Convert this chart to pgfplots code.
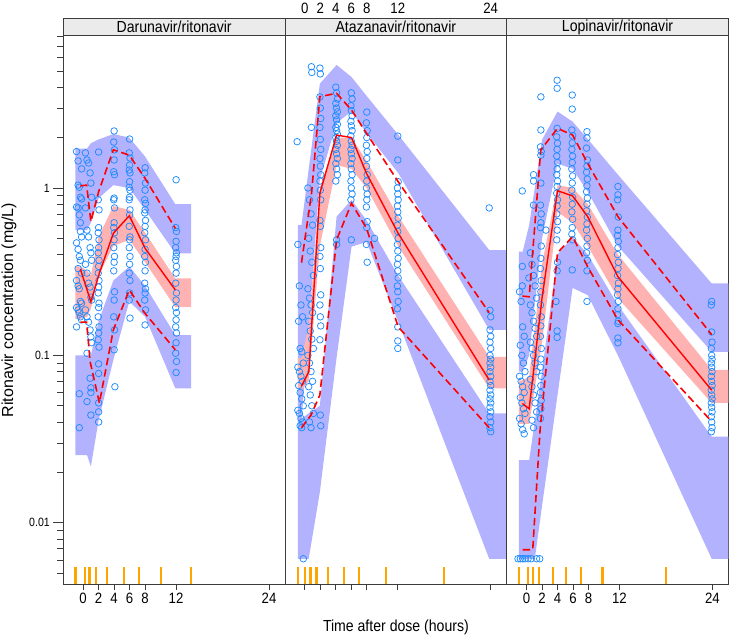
\documentclass[border=0pt]{standalone}
\usepackage{pgfplots}
\pgfplotsset{compat=1.18}
\usepackage{fontspec}
\setmainfont{Liberation Sans}[FakeStretch=0.88]
\newfontfamily\vertfont{Liberation Sans}

\definecolor{obsblue}{RGB}{30,140,255}
\definecolor{piblue}{RGB}{178,178,255}
\definecolor{pipink}{RGB}{255,178,178}
\definecolor{rugorange}{RGB}{255,165,0}
\definecolor{framecol}{RGB}{60,60,60}

\pgfplotsset{
  pts/.style={only marks, mark=o, mark size=3.3pt, color=obsblue, line width=0.75pt},
  obsmed/.style={color=red, line width=1.4pt},
  obspct/.style={color=red, line width=1.6pt, dash pattern=on 7.5pt off 4pt},
  rug/.style={only marks, mark=|, mark size=8.35pt, color=rugorange, line width=2.2pt},
}

\begin{document}
\begin{tikzpicture}
\path[use as bounding box] (0,0) rectangle (729pt,638pt);

% ---------------- Darunavir/ritonavir ----------------
\begin{axis}[scale only axis, width=221.7pt, height=548.3pt,
    xmin=-2.56, xmax=26.06, ymin=0.00431, ymax=8.12, ymode=log,
    axis line style={framecol, line width=0.7pt},
    xtick={0,2,4,6,8,12,24}, xticklabels={0,2,4,6,8,12,24},
    xtick pos=bottom, tick align=outside, major tick length=6pt,
    ymajorticks=false, yminorticks=false,
    every tick/.style={framecol, line width=0.7pt},
    x tick label style={font=\fontsize{15}{15}\selectfont},
    clip mode=individual,
    at={(63.3pt,54pt)}, anchor=south west]
\addplot[draw=none, fill=piblue] coordinates {(-0.99,1.72) (-0.35,1.72) (0.5,1.72) (1.0,1.85) (2.0,1.95) (3.9,2.1) (5.96,2.0) (8.0,1.54) (11.9,0.80) (13.94,0.80)
  (13.94,0.407) (11.9,0.407) (8.0,0.74) (5.96,1.0) (3.9,1.04) (2.0,0.868) (1.0,0.62) (0.5,0.561) (-0.35,0.561) (-0.99,0.561)} -- cycle;
\addplot[draw=none, fill=piblue] coordinates {(-0.99,0.10) (-0.35,0.10) (0.5,0.10) (1.0,0.10) (2.0,0.16) (3.9,0.28) (5.96,0.34) (8.0,0.26) (11.9,0.132) (13.94,0.132)
  (13.94,0.0636) (11.9,0.0636) (8.0,0.17) (5.96,0.21) (3.9,0.094) (2.0,0.041) (1.0,0.0217) (0.5,0.0254) (-0.35,0.0254) (-0.99,0.0254)} -- cycle;
\addplot[draw=none, fill=pipink] coordinates {(-0.99,0.34) (-0.35,0.34) (0.5,0.32) (1.0,0.30) (2.0,0.51) (3.9,0.78) (5.96,0.74) (8.0,0.54) (11.9,0.288) (13.94,0.288)
  (13.94,0.194) (11.9,0.194) (8.0,0.36) (5.96,0.49) (3.9,0.45) (2.0,0.30) (1.0,0.19) (0.5,0.17) (-0.35,0.165) (-0.99,0.165)} -- cycle;
\addplot[pts] table {
t v
-0.85 1.65
-0.65 1.04
-0.5 1.01
-0.35 0.88
-0.2 0.86
-0.85 0.77
-0.65 0.76
-0.5 0.69
-0.35 0.62
-0.2 0.51
-0.85 0.47
-0.65 0.43
-0.5 0.39
-0.35 0.37
-0.2 0.31
-0.85 0.28
-0.65 0.26
-0.5 0.25
-0.35 0.21
-0.2 0.205
-0.85 0.193
-0.65 0.187
-0.5 0.18
-0.35 0.17
-0.2 0.163
-0.85 0.148
-0.5 0.059
-0.5 0.037
-0.65 1.45
-0.2 1.3
-0.35 0.55
-0.65 0.33
0.3 1.62
0.5 1.47
0.7 1.41
0.9 1.23
1.0 1.07
1.1 0.88
0.3 0.76
0.5 0.56
0.7 0.51
0.9 0.44
1.0 0.41
1.1 0.37
0.3 0.35
0.5 0.31
0.7 0.27
0.9 0.256
1.0 0.223
1.1 0.214
0.3 0.187
0.5 0.17
0.7 0.158
0.9 0.142
1.0 0.129
1.1 0.119
0.5 0.103
0.9 0.073
1.0 0.064
1.0 0.06
0.5 0.053
1.0 0.044
2.0 1.64
1.95 0.85
2.05 0.74
2.0 0.58
1.95 0.54
2.05 0.49
2.0 0.44
1.95 0.41
2.05 0.37
2.0 0.34
1.95 0.31
2.05 0.28
2.0 0.256
1.95 0.236
2.05 0.205
2.0 0.193
1.95 0.17
2.05 0.148
2.0 0.136
1.95 0.124
2.05 0.112
2.0 0.089
2.0 0.078
2.0 0.052
2.0 0.046
2.0 0.040
4.0 2.19
3.95 1.88
4.05 1.69
4.0 1.47
3.95 1.25
4.05 1.2
4.0 0.87
3.95 0.85
4.05 0.76
4.0 0.62
3.95 0.58
4.05 0.54
4.0 0.49
3.95 0.44
4.05 0.39
4.0 0.36
3.95 0.32
4.05 0.24
4.0 0.214
3.95 0.17
4.05 0.142
4.0 0.108
4.1 0.065
6.0 1.96
5.95 1.62
6.05 1.51
6.0 1.37
5.95 1.28
6.05 1.23
6.0 1.09
5.95 1.01
6.05 0.97
6.0 0.88
5.95 0.85
6.05 0.74
6.0 0.69
5.95 0.59
6.05 0.51
6.0 0.49
5.95 0.44
6.05 0.39
6.0 0.35
5.95 0.31
6.05 0.28
6.0 0.236
5.95 0.214
6.05 0.167
8.0 1.32
7.95 1.23
8.05 1.07
8.0 0.97
7.95 0.85
8.05 0.81
8.0 0.74
7.95 0.71
8.05 0.64
8.0 0.59
7.95 0.54
8.05 0.49
8.0 0.43
7.95 0.39
8.05 0.36
8.0 0.32
7.95 0.27
8.05 0.25
8.0 0.236
7.95 0.214
8.05 0.187
8.0 0.152
12.0 1.12
11.95 0.58
12.05 0.55
12.0 0.48
11.95 0.44
12.05 0.41
12.0 0.39
11.95 0.37
12.05 0.34
12.0 0.31
11.95 0.27
12.05 0.236
12.0 0.214
11.95 0.193
12.05 0.18
12.0 0.163
11.95 0.148
12.05 0.136
12.0 0.119
11.95 0.103
12.05 0.092
12.0 0.079
};
\addplot[obspct] coordinates {(-0.35,1.03) (0.45,1.04) (1.0,0.63) (2.0,0.95) (3.9,1.69) (5.96,1.57) (8.0,1.14) (11.9,0.574)};
\addplot[obsmed] coordinates {(-0.35,0.327) (1.0,0.209) (2.1,0.31) (3.9,0.536) (5.96,0.683) (8.0,0.436) (11.9,0.246)};
\addplot[obspct] coordinates {(-0.35,0.158) (0.45,0.158) (0.9,0.092) (2.1,0.052) (3.9,0.142) (5.96,0.246) (8.0,0.178) (11.9,0.108)};
\addplot[rug] coordinates {(-0.99,0.004836) (0.21,0.004836) (0.81,0.004836) (1.62,0.004836) (3.06,0.004836) (5.31,0.004836) (7.25,0.004836) (10.1,0.004836) (13.94,0.004836)};
\end{axis}

% y axis ticks of the first panel
\begin{axis}[scale only axis, width=221.7pt, height=548.3pt, at={(63.3pt,54pt)}, anchor=south west,
  xmin=-2.56, xmax=26.06, ymin=0.00431, ymax=8.12, ymode=log,
  axis line style={framecol, line width=0.7pt},
  xmajorticks=false, xminorticks=false,
  ytick={0.01,0.1,1}, yticklabels={0.01,0.1,1},
  minor ytick={0.005,0.006,0.007,0.008,0.009,0.02,0.03,0.04,0.05,0.06,0.07,0.08,0.09,0.2,0.3,0.4,0.5,0.6,0.7,0.8,0.9,2,3,4,5,6,7,8},
  ytick pos=left, tick align=outside,
  major tick length=10pt, minor tick length=6pt,
  every tick/.style={framecol, line width=0.7pt},
  y tick label style={font=\fontsize{12}{12}\selectfont}]
\addplot[draw=none] coordinates {(0,1)};
\end{axis}

% ---------------- Atazanavir/ritonavir ----------------
\begin{axis}[scale only axis, width=221.7pt, height=548.3pt,
    xmin=-2.56, xmax=26.06, ymin=0.00431, ymax=8.12, ymode=log,
    axis line style={framecol, line width=0.7pt},
    xtick={0,2,4,6,8,12,24}, xticklabels={},
    xtick pos=bottom, tick align=outside, major tick length=6pt,
    ymajorticks=false, yminorticks=false,
    every tick/.style={framecol, line width=0.7pt},
    clip mode=individual,
    at={(285pt,54pt)}, anchor=south west]
\addplot[draw=none, fill=piblue] coordinates {(-0.9,0.60) (-0.43,0.60) (0.5,1.3) (1.94,4.2) (4.1,5.43) (6.03,4.6) (7.97,3.55) (12.05,2.08) (23.8,0.426) (27,0.426)
  (27,0.142) (23.8,0.142) (12.05,1.23) (7.97,2.13) (6.03,2.86) (4.1,2.45) (1.94,1.12) (0.5,0.15) (-0.43,0.04) (-0.9,0.04)} -- cycle;
\addplot[draw=none, fill=piblue] coordinates {(-0.9,0.042) (-0.43,0.042) (0.5,0.045) (1.94,0.05) (4.1,0.675) (6.03,0.848) (7.97,0.64) (12.05,0.3) (23.8,0.045) (27,0.045)
  (27,0.0061) (23.8,0.0061) (12.05,0.159) (7.97,0.476) (6.03,0.446) (4.1,0.097) (1.94,0.0153) (0.5,0.0061) (-0.43,0.0061) (-0.9,0.0061)} -- cycle;
\addplot[draw=none, fill=pipink] coordinates {(-0.9,0.096) (-0.43,0.096) (0.5,0.15) (1.94,1.0) (4.1,2.0) (6.03,2.0) (7.97,1.45) (12.05,0.68) (23.8,0.098) (27,0.098)
  (27,0.0636) (23.8,0.0636) (12.05,0.45) (7.97,1.0) (6.03,1.3) (4.1,1.37) (1.94,0.45) (0.5,0.07) (-0.43,0.062) (-0.9,0.062)} -- cycle;
\addplot[pts] table {
t v
-1.0 1.89
-0.9 0.46
-0.7 0.26
-0.5 0.20
-0.3 0.17
-0.8 0.16
-0.6 0.11
-0.4 0.105
-0.2 0.09
-0.9 0.085
-0.7 0.08
-0.5 0.075
-0.3 0.07
-0.8 0.066
-0.6 0.06
-0.4 0.055
-0.2 0.05
-0.9 0.047
-0.7 0.045
-0.5 0.042
-0.3 0.04
-0.6 0.038
-0.4 0.037
-0.2 0.0061
0.85 5.3
0.9 4.9
0.85 2.3
0.4 1.0
0.6 0.85
0.8 0.7
1.0 0.6
0.5 0.5
0.7 0.42
0.9 0.36
1.1 0.3
0.4 0.25
0.6 0.22
0.8 0.2
1.0 0.18
0.5 0.16
0.7 0.14
0.9 0.125
1.1 0.11
0.4 0.1
0.6 0.09
0.8 0.08
1.0 0.07
0.5 0.065
0.7 0.058
0.9 0.05
1.1 0.045
0.6 0.04
0.8 0.037
1.95 5.2
2.0 4.8
1.95 3.5
2.0 3.0
2.05 2.6
1.95 2.3
2.0 1.95
2.05 1.7
1.95 1.5
2.0 1.35
2.05 1.2
1.95 1.1
2.0 0.97
2.05 0.85
1.95 0.64
2.0 0.59
2.05 0.44
1.95 0.39
2.0 0.33
2.05 0.23
1.95 0.2
2.0 0.17
2.05 0.15
1.95 0.124
2.0 0.044
2.05 0.038
4.0 4.0
4.1 3.7
4.2 3.4
4.0 3.2
4.1 3.0
4.2 2.85
4.0 2.7
4.1 2.55
4.2 2.4
4.0 2.3
4.1 2.2
4.2 2.1
4.0 2.0
4.1 1.9
4.2 1.8
4.0 1.7
4.1 1.6
4.2 1.5
4.0 1.4
4.1 1.3
4.2 1.2
4.0 1.1
4.1 0.49
4.1 0.46
6.0 3.7
6.1 3.4
5.95 3.1
6.0 2.9
6.1 2.7
5.95 2.5
6.0 2.35
6.1 2.2
5.95 2.05
6.0 1.9
6.1 1.8
5.95 1.7
6.0 1.6
6.1 1.5
5.95 1.4
6.0 1.3
6.1 1.2
5.95 1.1
6.0 1.0
6.1 0.92
5.95 0.85
6.0 0.49
8.0 2.84
7.95 2.45
8.05 2.2
8.0 2.0
7.95 1.8
8.05 1.65
8.0 1.5
7.95 1.35
8.05 1.2
8.0 1.1
7.95 1.0
8.05 0.92
8.0 0.85
7.95 0.77
8.05 0.63
8.0 0.58
7.95 0.46
8.05 0.36
9.0 0.5
12.0 2.04
12.0 1.47
12.05 1.09
11.95 1.0
12.0 0.92
12.05 0.85
11.95 0.78
12.0 0.72
12.05 0.66
11.95 0.6
12.0 0.55
12.05 0.5
11.95 0.46
12.0 0.42
12.05 0.38
11.95 0.35
12.0 0.32
12.05 0.29
11.95 0.26
12.0 0.24
12.05 0.21
11.95 0.19
12.0 0.148
12.0 0.122
12.0 0.11
23.8 0.76
23.9 0.186
24.0 0.17
23.9 0.142
24.0 0.13
23.9 0.12
24.0 0.11
23.9 0.1
24.0 0.095
23.9 0.09
24.0 0.085
23.9 0.08
24.0 0.075
23.9 0.07
24.0 0.066
23.9 0.062
24.0 0.058
23.9 0.055
24.0 0.052
23.9 0.049
24.0 0.046
23.9 0.043
24.0 0.04
23.9 0.037
24.0 0.035
};
\addplot[obspct] coordinates {(-0.43,0.358) (0.87,0.93) (1.94,3.51) (4.1,3.68) (6.03,2.92) (7.97,2.12) (12.05,1.09) (23.8,0.18)};
\addplot[obsmed] coordinates {(-0.43,0.0655) (0.52,0.080) (1.94,0.93) (4.1,2.07) (6.03,2.0) (7.97,1.22) (12.05,0.536) (23.8,0.0713)};
\addplot[obspct] coordinates {(-0.43,0.037) (0.8,0.044) (1.94,0.058) (4.1,0.49) (6.03,0.81) (7.97,0.574) (12.05,0.148) (23.8,0.037)};
\addplot[rug] coordinates {(-0.9,0.004836) (0.0,0.004836) (0.74,0.004836) (1.5,0.004836) (3.0,0.004836) (5.04,0.004836) (7.02,0.004836) (10.5,0.004836) (18.0,0.004836)};
\pgfplotsinvokeforeach{0,2,4,6,8,12,24}{
  \node[font=\fontsize{15}{15}\selectfont, anchor=center, yshift=27pt] at (axis cs:#1,8.12) {#1};
}
\end{axis}

% ---------------- Lopinavir/ritonavir ----------------
\begin{axis}[scale only axis, width=221.7pt, height=548.3pt,
    xmin=-2.56, xmax=26.06, ymin=0.00431, ymax=8.12, ymode=log,
    axis line style={framecol, line width=0.7pt},
    xtick={0,2,4,6,8,12,24}, xticklabels={0,2,4,6,8,12,24},
    xtick pos=bottom, tick align=outside, major tick length=6pt,
    ymajorticks=false, yminorticks=false,
    every tick/.style={framecol, line width=0.7pt},
    x tick label style={font=\fontsize{15}{15}\selectfont},
    clip mode=individual,
    at={(506.7pt,54pt)}, anchor=south west]
\addplot[draw=none, fill=piblue] coordinates {(-1,0.416) (-0.5,0.416) (0.34,0.6) (2.0,1.94) (4.0,2.86) (5.95,2.49) (7.9,1.96) (11.8,1.2) (23.9,0.269) (27,0.269)
  (27,0.105) (23.9,0.105) (11.8,0.45) (7.9,0.95) (5.95,1.3) (4.0,1.4) (2.0,0.5) (0.34,0.1) (-0.5,0.08) (-1,0.08)} -- cycle;
\addplot[draw=none, fill=piblue] coordinates {(-1,0.0237) (-0.5,0.0237) (0.34,0.0237) (2.0,0.08) (4.0,0.40) (5.95,0.51) (7.9,0.40) (11.8,0.20) (23.9,0.0327) (27,0.0327)
  (27,0.0061) (23.9,0.0061) (11.8,0.10) (7.9,0.229) (5.95,0.253) (4.0,0.058) (2.0,0.0126) (1.07,0.0061) (-0.5,0.0061) (-1,0.0061)} -- cycle;
\addplot[draw=none, fill=pipink] coordinates {(-1,0.071) (-0.5,0.071) (0.34,0.075) (2.0,0.35) (4.0,1.04) (5.95,1.0) (7.9,0.80) (11.8,0.40) (23.9,0.082) (27,0.082)
  (27,0.052) (23.9,0.052) (11.8,0.22) (7.9,0.45) (5.95,0.62) (4.0,0.72) (2.0,0.12) (0.34,0.039) (-0.5,0.039) (-1,0.039)} -- cycle;
\addplot[pts] table {
t v
-0.55 0.96
-0.55 0.34
-0.55 0.26
0.3 0.29
-0.9 0.24
-0.7 0.21
-0.5 0.148
-0.3 0.13
-0.8 0.115
-0.6 0.1
-0.4 0.09
-0.2 0.08
-0.9 0.075
-0.7 0.07
-0.5 0.065
-0.3 0.06
-0.8 0.056
-0.6 0.052
-0.4 0.048
-0.2 0.045
-0.9 0.042
-0.7 0.039
-0.5 0.036
-0.3 0.034
-1.1 0.0061
-0.8 0.0061
-0.5 0.0061
-0.2 0.0061
0.2 0.0061
0.6 0.0061
1.3 0.0061
1.7 0.0061
0.9 1.2
0.9 1.1
0.9 0.79
0.5 0.41
0.7 0.35
0.9 0.3
1.1 0.26
1.3 0.22
0.5 0.2
0.7 0.18
0.9 0.16
1.1 0.145
1.3 0.13
0.5 0.12
0.7 0.11
0.9 0.1
1.1 0.09
1.3 0.08
0.5 0.072
0.7 0.065
0.9 0.058
1.1 0.052
1.3 0.046
0.7 0.041
0.9 0.037
1.85 3.5
1.85 2.22
1.8 1.76
1.9 1.65
1.85 1.57
1.85 1.07
1.8 0.79
1.9 0.7
1.85 0.62
1.8 0.58
1.9 0.45
1.85 0.38
1.8 0.33
1.9 0.28
1.85 0.24
1.8 0.2
1.9 0.17
1.85 0.15
1.8 0.13
1.9 0.11
1.85 0.095
1.8 0.085
1.9 0.075
1.85 0.066
1.8 0.06
1.9 0.054
1.85 0.048
1.8 0.042
2.5 0.56
3.8 0.21
3.95 0.14
3.95 0.128
3.95 4.4
3.95 3.94
3.95 2.27
3.9 2.02
4.0 1.85
3.95 1.7
3.9 1.55
4.0 1.42
3.95 1.3
3.9 1.2
4.0 1.1
3.95 1.02
3.9 0.93
4.0 0.85
3.95 0.78
3.9 0.7
4.0 0.63
3.95 0.56
3.9 0.49
4.0 0.36
3.95 0.32
5.9 3.59
5.9 2.96
5.85 2.22
5.95 2.05
5.9 1.86
5.85 1.7
5.95 1.55
5.9 1.42
5.85 1.3
5.95 1.18
5.9 1.07
5.85 0.97
5.95 0.88
5.9 0.8
5.85 0.72
5.95 0.65
5.9 0.58
5.85 0.53
5.95 0.49
5.9 0.324
7.8 2.17
7.8 1.99
7.75 1.73
7.85 1.47
7.8 1.35
7.75 1.24
7.85 1.13
7.8 1.03
7.75 0.95
7.85 0.87
7.8 0.8
7.75 0.73
7.85 0.67
7.8 0.61
7.75 0.56
7.85 0.5
7.8 0.45
7.75 0.41
7.85 0.37
7.8 0.32
7.8 0.21
11.8 1.02
11.8 0.91
11.75 0.85
11.85 0.67
11.8 0.56
11.75 0.52
11.85 0.48
11.8 0.44
11.75 0.4
11.85 0.36
11.8 0.33
11.75 0.3
11.85 0.27
11.8 0.25
11.75 0.23
11.85 0.21
11.8 0.19
11.75 0.175
11.85 0.16
11.8 0.155
11.8 0.127
11.8 0.119
23.9 0.21
23.85 0.2
23.9 0.138
23.95 0.12
23.85 0.11
23.9 0.1
23.95 0.095
23.85 0.09
23.9 0.085
23.95 0.08
23.85 0.075
23.9 0.07
23.95 0.066
23.85 0.062
23.9 0.058
23.95 0.055
23.85 0.052
23.9 0.049
23.95 0.046
23.85 0.043
23.9 0.04
23.95 0.037
23.85 0.035
};
\addplot[obspct] coordinates {(-0.53,0.226) (0.34,0.224) (1.84,1.69) (4.0,2.27) (5.95,2.07) (7.9,1.40) (11.8,0.674) (23.9,0.133)};
\addplot[obsmed] coordinates {(-0.53,0.0516) (0.34,0.048) (2.0,0.22) (4.0,0.963) (5.95,0.896) (7.9,0.674) (11.8,0.295) (23.9,0.062)};
\addplot[obspct] coordinates {(-0.5,0.0069) (0.8,0.0069) (1.75,0.036) (4.0,0.41) (5.95,0.512) (7.9,0.338) (11.8,0.163) (23.9,0.0403)};
\addplot[rug] coordinates {(-0.95,0.004836) (0.2,0.004836) (0.8,0.004836) (1.56,0.004836) (3.4,0.004836) (5.1,0.004836) (7.04,0.004836) (9.8,0.004836) (18.0,0.004836)};
\end{axis}

% strips with the panel titles
\draw[framecol, fill=black!8, line width=0.7pt] (63.3pt,602.3pt) rectangle (285pt,619.7pt);
\draw[framecol, fill=black!8, line width=0.7pt] (285pt,602.3pt) rectangle (506.7pt,619.7pt);
\draw[framecol, fill=black!8, line width=0.7pt] (506.7pt,602.3pt) rectangle (728.4pt,619.7pt);
\node[font=\fontsize{16}{16}\selectfont] at (174.15pt,611pt) {Darunavir/ritonavir};
\node[font=\fontsize{16}{16}\selectfont] at (395.85pt,611pt) {Atazanavir/ritonavir};
\node[font=\fontsize{16}{16}\selectfont] at (617.55pt,611pt) {Lopinavir/ritonavir};

% axis titles
\node[font=\fontsize{16}{16}\selectfont] at (395.9pt,11pt) {Time after dose (hours)};
\node[font=\vertfont\fontsize{16}{16}\selectfont, rotate=90] at (9pt,328pt) {Ritonavir concentration (mg/L)};
\end{tikzpicture}
\end{document}
